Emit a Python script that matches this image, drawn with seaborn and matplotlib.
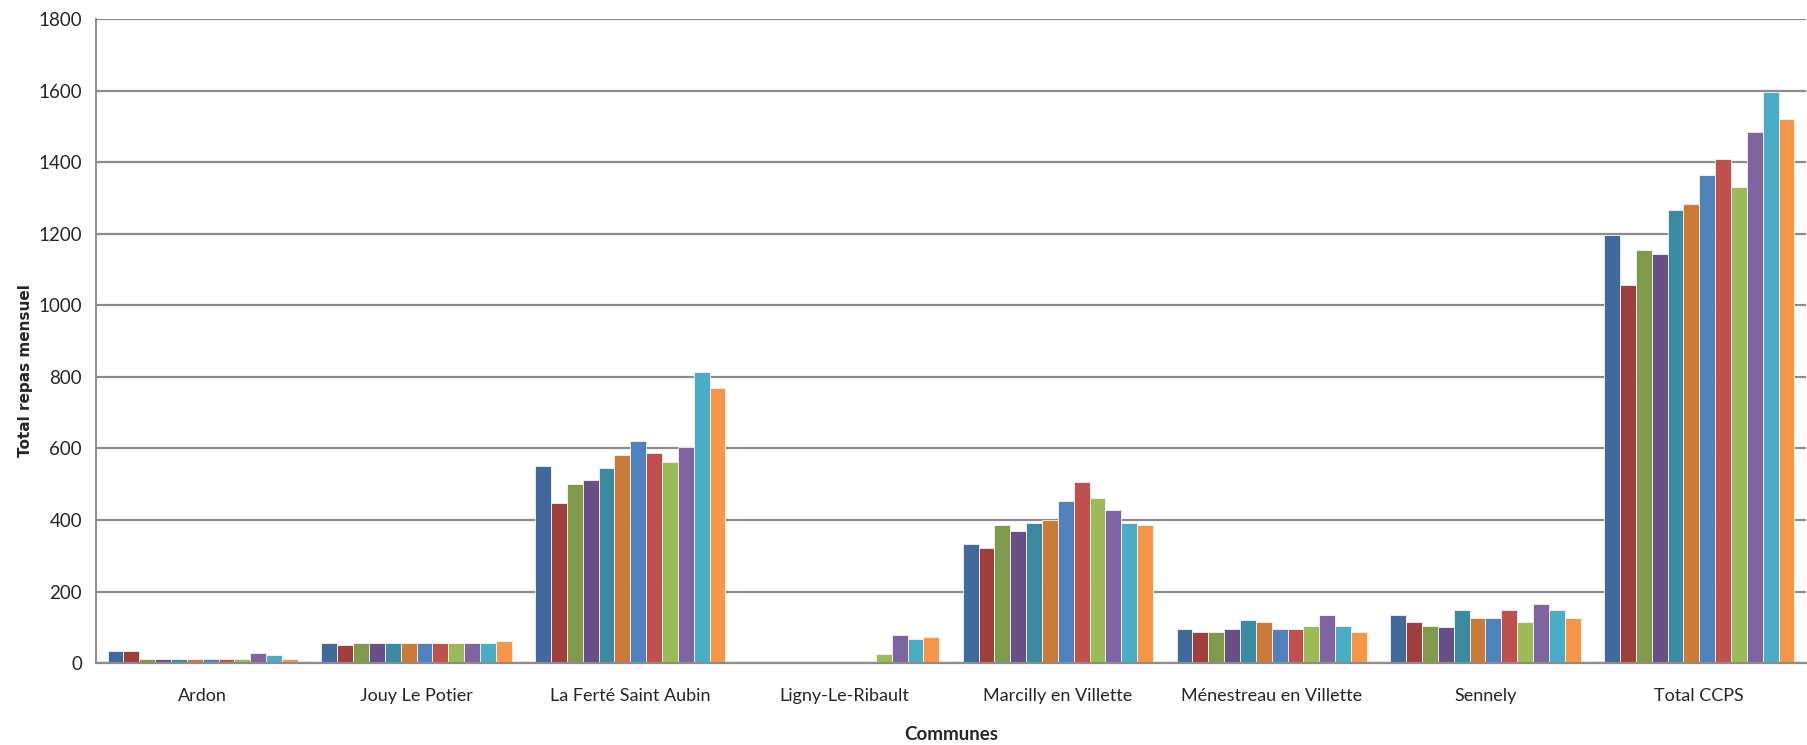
import numpy as np
import pandas as pd
import seaborn as sns
import matplotlib.pyplot as plt

# Données
communes = ["Ardon", "Jouy Le Potier", "La Ferté Saint Aubin", "Ligny-Le-Ribault",
            "Marcilly en Villette", "Ménestreau en Villette", "Sennely", "Total CCPS"]
mois = ["janv.", "févr.", "mars", "avr.", "mai", "juin",
        "juil.", "août", "sept.", "oct.", "nov.", "déc."]

ardon = [34, 34, 12, 12, 12, 12, 12, 12, 12, 29, 23, 12]
jouy = [57, 51, 57, 57, 57, 57, 57, 57, 57, 57, 57, 62]
la_ferte = [550, 448, 502, 512, 545, 582, 620, 587, 561, 604, 813, 770]
ligny = [0, 0, 0, 0, 0, 0, 0, 0, 24, 78, 67, 72]
marcilly = [332, 322, 386, 370, 392, 400, 452, 505, 462, 429, 392, 386]
menestreau = [94, 88, 88, 94, 121, 116, 94, 94, 105, 133, 105, 88]
sennely = [133, 116, 105, 100, 149, 127, 127, 149, 116, 165, 149, 127]
total_ccps = [1198, 1058, 1155, 1144, 1268, 1284, 1365, 1409, 1332, 1484, 1597, 1522]

couleurs = ["#3F6A9B", "#9E3F3D", "#7F9A48", "#684F86", "#3A8AA2", "#CB7A37",
            "#4F81BD", "#C0504D", "#9BBB59", "#8064A2", "#4BACC6", "#F79646"]

series = [ardon, jouy, la_ferte, ligny, marcilly, menestreau, sennely, total_ccps]
rows = []
for commune, valeurs in zip(communes, series):
    for m, v in zip(mois, valeurs):
        rows.append({"Commune": commune, "Mois": m, "Repas": v})
df = pd.DataFrame(rows)

sns.set_style("white")
plt.rcParams['font.family'] = ['Lato', 'DejaVu Sans']

fig, ax = plt.subplots(figsize=(18.08, 7.45), dpi=100)
sns.barplot(data=df, x="Commune", y="Repas", hue="Mois", order=communes,
            hue_order=mois, palette=couleurs, saturation=1, width=0.89, gap=0,
            edgecolor="#f4f4f4", linewidth=0.6, legend=False, ax=ax)

ax.set_ylim(0, 1800)
ax.set_yticks(np.arange(0, 1801, 200))
ax.set_xlim(-0.5, 7.5)
ax.yaxis.grid(True, color="#8c8c8c", linewidth=1.6)
ax.set_axisbelow(True)

for s in ["top", "right"]:
    ax.spines[s].set_visible(False)
ax.spines["left"].set_color("#8c8c8c")
ax.spines["bottom"].set_color("#8c8c8c")
ax.spines["left"].set_linewidth(1.4)
ax.spines["bottom"].set_linewidth(1.6)

ax.tick_params(axis="y", length=6, color="#8c8c8c", width=1.2, labelsize=13.5, pad=4)
ax.tick_params(axis="x", length=0, labelsize=13, pad=18)

ax.set_xlabel("Communes", fontsize=13.5, fontweight="bold", labelpad=16)
ax.set_ylabel("Total repas mensuel", fontsize=11, fontweight="bold",
              family="DejaVu Sans")
ax.yaxis.set_label_coords(-0.037, 0.455)

plt.subplots_adjust(left=0.053, right=0.999, top=0.974, bottom=0.11)
plt.savefig("out.png", dpi=100)
